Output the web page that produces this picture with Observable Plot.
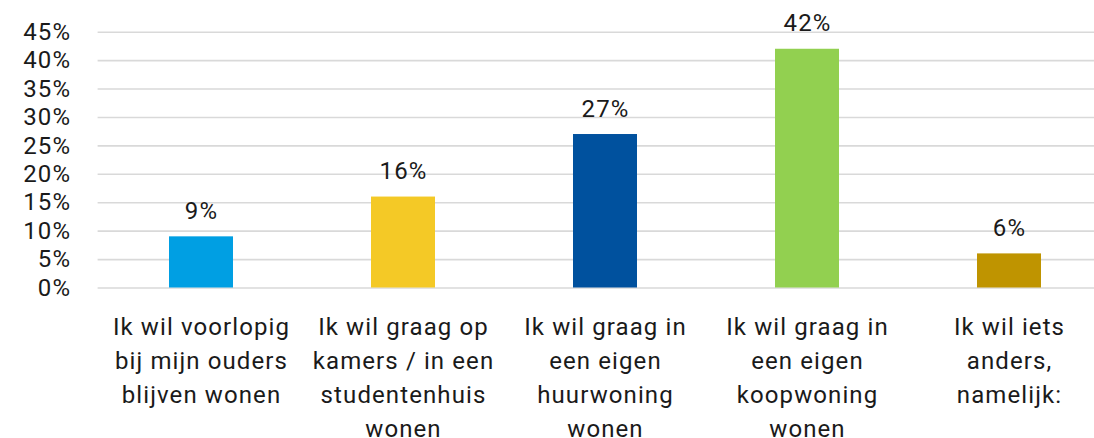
<!DOCTYPE html>
<html>
<head>
<meta charset="utf-8">
<script src="https://cdn.jsdelivr.net/npm/d3@7"></script>
<script src="https://cdn.jsdelivr.net/npm/@observablehq/plot@0.6"></script>
<style>
  html, body { margin: 0; padding: 0; background: #fff; }
  #chart svg { display: block; }
  #chart svg text { letter-spacing: 1.1px; }
</style>
</head>
<body>
<div id="chart"></div>
<script>
const categories = [
  "Ik wil voorlopig bij mijn ouders blijven wonen",
  "Ik wil graag op kamers / in een studentenhuis wonen",
  "Ik wil graag in een eigen huurwoning wonen",
  "Ik wil graag in een eigen koopwoning wonen",
  "Ik wil iets anders, namelijk:"
];
const tickLabels = [
  "Ik wil voorlopig\nbij mijn ouders\nblijven wonen",
  "Ik wil graag op\nkamers / in een\nstudentenhuis\nwonen",
  "Ik wil graag in\neen eigen\nhuurwoning\nwonen",
  "Ik wil graag in\neen eigen\nkoopwoning\nwonen",
  "Ik wil iets\nanders,\nnamelijk:"
];
const values = [0.09, 0.16, 0.27, 0.42, 0.06];
const colors = ["#009FE3", "#F4C926", "#00519E", "#92D050", "#BF9400"];
const yTicks = [0, 0.05, 0.10, 0.15, 0.20, 0.25, 0.30, 0.35, 0.40, 0.45];

const data = categories.map((c, i) => ({cat: c, value: values[i], color: colors[i]}));
const labelOf = new Map(categories.map((c, i) => [c, tickLabels[i]]));
const fmt = d => Math.round(d * 100) + "%";
const font = "Roboto, 'DejaVu Sans', sans-serif";

const chart = Plot.plot({
  width: 1094,
  height: 438,
  marginLeft: 97.6,
  marginRight: -17.4,
  marginTop: 31.7,
  marginBottom: 150.5,
  style: {fontFamily: font, color: "#1a1a1a", background: "#fff"},
  x: {domain: categories, paddingInner: 0.684, paddingOuter: 0.342, label: null},
  y: {domain: [0, 0.45], label: null},
  marks: [
    Plot.gridY(yTicks, {stroke: "#d9d9d9", strokeOpacity: 1, strokeWidth: 1.6}),
    Plot.barY(data, {x: "cat", y: "value", fill: "color"}),
    Plot.text(data, {x: "cat", y: "value", text: d => fmt(d.value), lineAnchor: "bottom", dy: -18, fontSize: 24, fill: "#1a1a1a"}),
    Plot.axisY(yTicks, {tickSize: 0, tickPadding: 27, tickFormat: fmt, fontSize: 24, fill: "#1a1a1a", label: null}),
    Plot.axisX({tickSize: 0, tickPadding: 22.7, tickFormat: d => labelOf.get(d), fontSize: 24, lineHeight: 34 / 24, fill: "#1a1a1a", label: null})
  ]
});
document.getElementById("chart").appendChild(chart);
</script>
</body>
</html>
